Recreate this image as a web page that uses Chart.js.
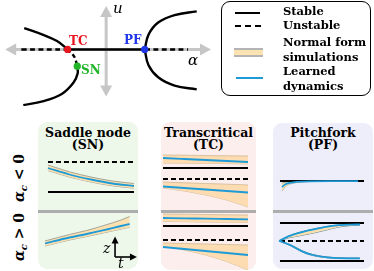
<!DOCTYPE html>
<html>
<head>
<meta charset="utf-8">
<script src="https://cdn.jsdelivr.net/npm/chart.js@4.4.1/dist/chart.umd.min.js"></script>
<style>
  html, body { margin: 0; padding: 0; background: #fff; }
  #page { position: relative; width: 374px; height: 271px; overflow: hidden; font-family: "DejaVu Serif", serif; }
  canvas { position: absolute; }
  .abs { position: absolute; white-space: nowrap; }
  .lbl { position: absolute; white-space: nowrap; font-weight: bold; font-size: 12px; line-height: 12px; transform: translateY(-50%); }
  .panel { position: absolute; border-radius: 9px; }
  .sep { position: absolute; height: 3px; background: #adadad; }
  .title { position: absolute; text-align: center; font-weight: bold; font-size: 12.5px; line-height: 12px; }
  .side { position: absolute; font-weight: bold; font-size: 14px; transform: translate(-50%, -50%) rotate(-90deg); white-space: nowrap; }
  .leg { position: absolute; font-size: 11.5px; line-height: 14.5px; font-weight: bold; }
</style>
</head>
<body>
<div id="page">
  <!-- bifurcation diagram -->
  <canvas id="bif" width="220" height="110" style="left:0;top:0"></canvas>
  <div class="abs" style="left:113px;top:-1px;font-style:italic;font-size:15px;">u</div>
  <div class="abs" style="left:188px;top:51px;font-style:italic;font-size:15px;">α</div>
  <div class="lbl" style="left:69px;top:41px;color:#e8141e;">TC</div>
  <div class="lbl" style="left:81px;top:70px;color:#22b52a;">SN</div>
  <div class="lbl" style="left:124px;top:40px;color:#1f35e8;">PF</div>

  <!-- legend -->
  <div style="position:absolute;left:221px;top:1px;width:148px;height:93px;border:1.5px solid #000;border-radius:9px;"></div>
  <div style="position:absolute;left:235px;top:12px;width:25px;height:2px;background:#000;"></div>
  <div style="position:absolute;left:235px;top:25px;width:26px;height:0;border-top:2px dashed #000;"></div>
  <div style="position:absolute;left:234px;top:48px;width:29px;height:5px;background:#fde2b2;border-top:2px solid #b4b4b4;border-bottom:2px solid #b4b4b4;"></div>
  <div style="position:absolute;left:236px;top:77px;width:27px;height:2px;background:#1e9bd7;"></div>
  <div class="leg" style="left:283px;top:4px;">Stable</div>
  <div class="leg" style="left:283px;top:18px;">Unstable</div>
  <div class="leg" style="left:283px;top:35px;">Normal form<br>simulations</div>
  <div class="leg" style="left:283px;top:64px;">Learned<br>dynamics</div>

  <!-- panels -->
  <div class="panel" style="left:38px;top:122px;width:100px;height:147px;background:#edf7ea;"></div>
  <div class="panel" style="left:161px;top:122px;width:95px;height:148px;background:#fdeeee;"></div>
  <div class="panel" style="left:273px;top:123px;width:100px;height:146px;background:#eeeefb;"></div>
  <div class="sep" style="left:38px;top:209.5px;width:100px;"></div>
  <div class="sep" style="left:161px;top:209.5px;width:95px;"></div>
  <div class="sep" style="left:273px;top:209.5px;width:100px;"></div>

  <div class="title" style="left:38px;top:127px;width:100px;">Saddle node<br>(SN)</div>
  <div class="title" style="left:161px;top:127px;width:95px;">Transcritical<br>(TC)</div>
  <div class="title" style="left:273px;top:127px;width:100px;">Pitchfork<br>(PF)</div>

  <div class="side" style="left:20px;top:178px;"><i>α<sub style="font-size:10px;">c</sub></i> &lt; 0</div>
  <div class="side" style="left:20px;top:237px;"><i>α<sub style="font-size:10px;">c</sub></i> &gt; 0</div>

  <canvas id="snUp" width="100" height="59" style="left:38px;top:150px"></canvas>
  <canvas id="snLo" width="100" height="56" style="left:38px;top:213px"></canvas>
  <canvas id="tcUp" width="95" height="59" style="left:161px;top:150px"></canvas>
  <canvas id="tcLo" width="95" height="57" style="left:161px;top:213px"></canvas>
  <canvas id="pfUp" width="100" height="59" style="left:273px;top:150px"></canvas>
  <canvas id="pfLo" width="100" height="56" style="left:273px;top:213px"></canvas>

  <div class="abs" style="left:103px;top:240px;font-style:italic;font-size:14px;">z</div>
  <div class="abs" style="left:118px;top:255px;font-style:italic;font-size:14px;">t</div>
</div>

<script>
// ---- bifurcation diagram (alpha, u) ----
const snUpperAlpha = [-2.125, -1.65, -1.275, -1.0];
const snUpperU = [0.575, 0.4, 0.225, 0];
const snMidAlpha = [-1.0, -0.825, -0.75];
const snMidU = [0, -0.2, -0.45];
const snLowerAlpha = [-0.75, -0.74, -0.85, -1.15, -1.65, -2.15];
const snLowerU = [-0.45, -0.65, -0.9, -1.2, -1.4, -1.5];
const pfTopAlpha = [1.0, 1.1, 1.35, 1.775, 2.35];
const pfTopU = [0, 0.4, 0.725, 0.925, 1.025];
const pfBotAlpha = [1.0, 1.1, 1.35, 1.775, 2.35];
const pfBotU = [0, -0.425, -0.75, -0.975, -1.075];
const trivialAlpha = [-2.2, -1.0, 1.0, 2.125];
const markerAlpha = [-1.0, -0.75, 1.0];
const markerU = [0, -0.45, 0];
const markerColors = ['#e8141e', '#22b52a', '#1f35e8'];

// ---- panel curves (t, z) ----
const lineT = [0, 1];
const snUpT = [0, 0.25, 0.5, 0.75, 1];
const snUpLearned = [2.4, 1.75, 1.25, 0.85, 0.6];
const snUpSimHi = [2.7, 2.02, 1.5, 1.1, 0.85];
const snUpSimLo = [2.15, 1.5, 1.0, 0.62, 0.38];
const snUpStable = 0, snUpUnstable = 3;

const snLoT = [-0.035, 0.25, 0.45, 0.65, 0.85, 0.95];
const snLoLearned = [0.65, 1.25, 1.6, 1.98, 2.4, 2.6];
const snLoSimHi = [0.9, 1.55, 1.95, 2.45, 3.0, 3.35];
const snLoSimLo = [0.4, 1.0, 1.35, 1.72, 2.1, 2.28];

const tcT = [0, 0.25, 0.5, 0.75, 1];
const tcUpAHi = [1.3, 1.28, 1.25, 1.22, 1.2];
const tcUpALo = [0.5, 0.48, 0.46, 0.44, 0.4];
const tcUpALearned = [1.0, 0.9, 0.8, 0.7, 0.6];
const tcUpBHi = [-1.4, -1.48, -1.55, -1.62, -1.7];
const tcUpBLo = [-2.0, -2.3, -2.7, -3.2, -3.9];
const tcUpBLearned = [-1.85, -2.0, -2.15, -2.3, -2.45];
const tcUpStable = 0, tcUpUnstable = -1.1;

const tcLoAHi = [1.2, 1.18, 1.15, 1.12, 1.1];
const tcLoALo = [0.45, 0.43, 0.4, 0.38, 0.35];
const tcLoALearned = [0.8, 0.77, 0.73, 0.7, 0.67];
const tcLoBHi = [-1.7, -1.75, -1.8, -1.85, -1.9];
const tcLoBLo = [-2.0, -2.4, -2.9, -3.55, -4.4];
const tcLoBLearned = [-2.1, -2.3, -2.5, -2.7, -2.9];
const tcLoStable = 0, tcLoUnstable = -1.4;

const pfUpT = [0.024, 0.06, 0.12, 0.2, 0.35, 0.6, 0.93];
const pfUpLearned = [-0.6, -0.35, -0.18, -0.08, -0.03, -0.02, -0.02];
const pfUpSimHi = [-0.2, -0.12, -0.06, -0.03, -0.01, 0, 0];
const pfUpSimLo = [-1.0, -0.6, -0.3, -0.15, -0.06, -0.03, -0.03];
const pfUpStable = 0;

const pfRiseT = [-0.01, 0.1, 0.25, 0.4, 0.55, 0.7, 0.85, 0.95];
const pfRiseSimHi = [0, 0.5, 0.9, 1.2, 1.45, 1.6, 1.65, 1.66];
const pfRiseSimLo = [0, 0.3, 0.55, 0.8, 1.1, 1.4, 1.55, 1.6];
const pfRiseLearned = [0, 0.46, 0.86, 1.16, 1.42, 1.58, 1.64, 1.65];
const pfDropT = [-0.01, 0.12, 0.27, 0.39, 0.56, 0.8, 0.95];
const pfDropSimHi = [0, -0.35, -1.0, -1.35, -1.6, -1.7, -1.7];
const pfDropSimLo = [0, -0.45, -1.12, -1.45, -1.67, -1.76, -1.76];
const pfDropLearned = [0, -0.4, -1.06, -1.4, -1.63, -1.73, -1.73];
const pfLoStableHi = 1.8, pfLoStableLo = -2.0, pfLoUnstable = 0;

const BLUE = '#1e9bd7';
const EDGE = '#a5a597';
const FILL = '#fce1b0';

function pts(xs, ys) {
  return xs.map((x, i) => ({ x: x, y: ys[i] }));
}
function flat(xs, y) {
  return xs.map(x => ({ x: x, y: y }));
}
function solid(xs, y) {
  return { data: flat(xs, y), borderColor: '#000', borderWidth: 2, order: 1 };
}
function dashed(xs, y) {
  return { data: flat(xs, y), borderColor: '#000', borderWidth: 2, borderDash: [5, 3], order: 1 };
}
function band(xs, hi, lo, edge, fill) {
  return [
    { data: pts(xs, hi), borderColor: edge || EDGE, borderWidth: 1, fill: '+1', backgroundColor: fill || FILL, order: 3, cubicInterpolationMode: 'monotone' },
    { data: pts(xs, lo), borderColor: edge || EDGE, borderWidth: 1, order: 3, cubicInterpolationMode: 'monotone' }
  ];
}
function learned(xs, ys) {
  return { data: pts(xs, ys), borderColor: BLUE, borderWidth: 1.8, order: 0, cubicInterpolationMode: 'monotone' };
}

function makePlot(id, xmin, xmax, ymin, ymax, datasets, plugins) {
  return new Chart(document.getElementById(id), {
    type: 'line',
    data: { datasets: datasets },
    options: {
      responsive: false,
      animation: false,
      devicePixelRatio: 1,
      layout: { padding: 0 },
      elements: { point: { radius: 0 }, line: { fill: false, borderCapStyle: 'butt' } },
      plugins: { legend: { display: false }, tooltip: { enabled: false } },
      scales: {
        x: { type: 'linear', display: false, min: xmin, max: xmax },
        y: { type: 'linear', display: false, min: ymin, max: ymax }
      }
    },
    plugins: plugins || []
  });
}

function arrow(ctx, x0, y0, x1, y1, head, half) {
  const a = Math.atan2(y1 - y0, x1 - x0);
  ctx.beginPath();
  ctx.moveTo(x0, y0);
  ctx.lineTo(x1 - Math.cos(a) * head * 0.7, y1 - Math.sin(a) * head * 0.7);
  ctx.stroke();
  ctx.beginPath();
  ctx.moveTo(x1, y1);
  ctx.lineTo(x1 - Math.cos(a) * head + Math.sin(a) * half, y1 - Math.sin(a) * head - Math.cos(a) * half);
  ctx.lineTo(x1 - Math.cos(a) * head - Math.sin(a) * half, y1 - Math.sin(a) * head + Math.cos(a) * half);
  ctx.closePath();
  ctx.fill();
}

// axes of the bifurcation diagram, drawn under the branches
const bifAxes = {
  id: 'bifAxes',
  beforeDatasetsDraw(chart) {
    const { ctx, scales: { x, y } } = chart;
    ctx.save();
    ctx.strokeStyle = '#c6c6c6';
    ctx.fillStyle = '#c6c6c6';
    ctx.lineWidth = 3;
    const x0 = x.getPixelForValue(0), y0 = y.getPixelForValue(0);
    const xl = x.getPixelForValue(-2.62), xr = x.getPixelForValue(2.72);
    const yt = y.getPixelForValue(1.17), yb = y.getPixelForValue(-1.27);
    arrow(ctx, x0, y0, xl, y0, 11, 6);
    arrow(ctx, x0, y0, xr, y0, 11, 6);
    arrow(ctx, x0, y0, x0, yt, 11, 6);
    arrow(ctx, x0, y0, x0, yb, 11, 6);
    ctx.restore();
  }
};

const bifLine = { borderColor: '#000', borderWidth: 2.4, tension: 0.4 };
makePlot('bif', -2.65, 2.85, -1.525, 1.225, [
  { type: 'scatter', data: pts(markerAlpha, markerU), pointRadius: 3.6, pointBackgroundColor: markerColors, pointBorderWidth: 0, order: 0 },
  Object.assign({ data: pts(snUpperAlpha, snUpperU) }, bifLine),
  Object.assign({ data: pts(snMidAlpha, snMidU), borderDash: [4, 3] }, bifLine),
  Object.assign({ data: pts(snLowerAlpha, snLowerU) }, bifLine),
  Object.assign({ data: pts(pfTopAlpha, pfTopU) }, bifLine),
  Object.assign({ data: pts(pfBotAlpha, pfBotU) }, bifLine),
  Object.assign({ data: flat(trivialAlpha.slice(0, 2), 0), borderDash: [5, 3.5] }, bifLine),
  Object.assign({ data: flat(trivialAlpha.slice(1, 3), 0) }, bifLine),
  Object.assign({ data: flat(trivialAlpha.slice(2, 4), 0), borderDash: [5, 3.5] }, bifLine)
], [bifAxes]);

// saddle node
makePlot('snUp', -0.116, 1.047, -1.7, 4.2, [
  learned(snUpT, snUpLearned),
  solid(lineT, snUpStable),
  dashed(lineT, snUpUnstable)
].concat(band(snUpT, snUpSimHi, snUpSimLo)));

const ztAxes = {
  id: 'ztAxes',
  afterDatasetsDraw(chart) {
    const { ctx, scales: { x, y } } = chart;
    ctx.save();
    ctx.strokeStyle = '#000';
    ctx.fillStyle = '#000';
    ctx.lineWidth = 1.6;
    const cx = x.getPixelForValue(0.78), cy = y.getPixelForValue(-0.7);
    arrow(ctx, cx, cy, cx, y.getPixelForValue(1.35), 7, 3.5);
    arrow(ctx, cx, cy, x.getPixelForValue(1.035), cy, 7, 3.5);
    ctx.restore();
  }
};
makePlot('snLo', -0.116, 1.047, -1.9, 3.7, [
  learned(snLoT, snLoLearned)
].concat(band(snLoT, snLoSimHi, snLoSimLo)), [ztAxes]);

// transcritical
const TC_EDGE = '#d9c09e';
const TC_FILL = '#fcdcb0';
makePlot('tcUp', -0.0235, 1.094, -4.1, 1.8, [
  learned(tcT, tcUpALearned),
  learned(tcT, tcUpBLearned),
  solid(lineT, tcUpStable),
  dashed(lineT, tcUpUnstable)
].concat(band(tcT, tcUpAHi, tcUpALo, TC_EDGE, TC_FILL), band(tcT, tcUpBHi, tcUpBLo, TC_EDGE, TC_FILL)));

makePlot('tcLo', -0.0235, 1.094, -4.4, 1.3, [
  learned(tcT, tcLoALearned),
  learned(tcT, tcLoBLearned),
  solid(lineT, tcLoStable),
  dashed(lineT, tcLoUnstable)
].concat(band(tcT, tcLoAHi, tcLoALo, TC_EDGE, TC_FILL), band(tcT, tcLoBHi, tcLoBLo, TC_EDGE, TC_FILL)));

// pitchfork
makePlot('pfUp', -0.083, 1.107, -2.8, 3.1, [
  learned(pfUpT, pfUpLearned),
  solid(lineT, pfUpStable)
].concat(band(pfUpT, pfUpSimHi, pfUpSimLo)));

const PF_EDGE = '#5f7f8c';
makePlot('pfLo', -0.083, 1.107, -2.8, 2.8, [
  learned(pfRiseT, pfRiseLearned),
  learned(pfDropT, pfDropLearned),
  solid(lineT, pfLoStableHi),
  solid(lineT, pfLoStableLo),
  dashed(lineT, pfLoUnstable)
].concat(band(pfRiseT, pfRiseSimHi, pfRiseSimLo, PF_EDGE), band(pfDropT, pfDropSimHi, pfDropSimLo, PF_EDGE)));
</script>
</body>
</html>
